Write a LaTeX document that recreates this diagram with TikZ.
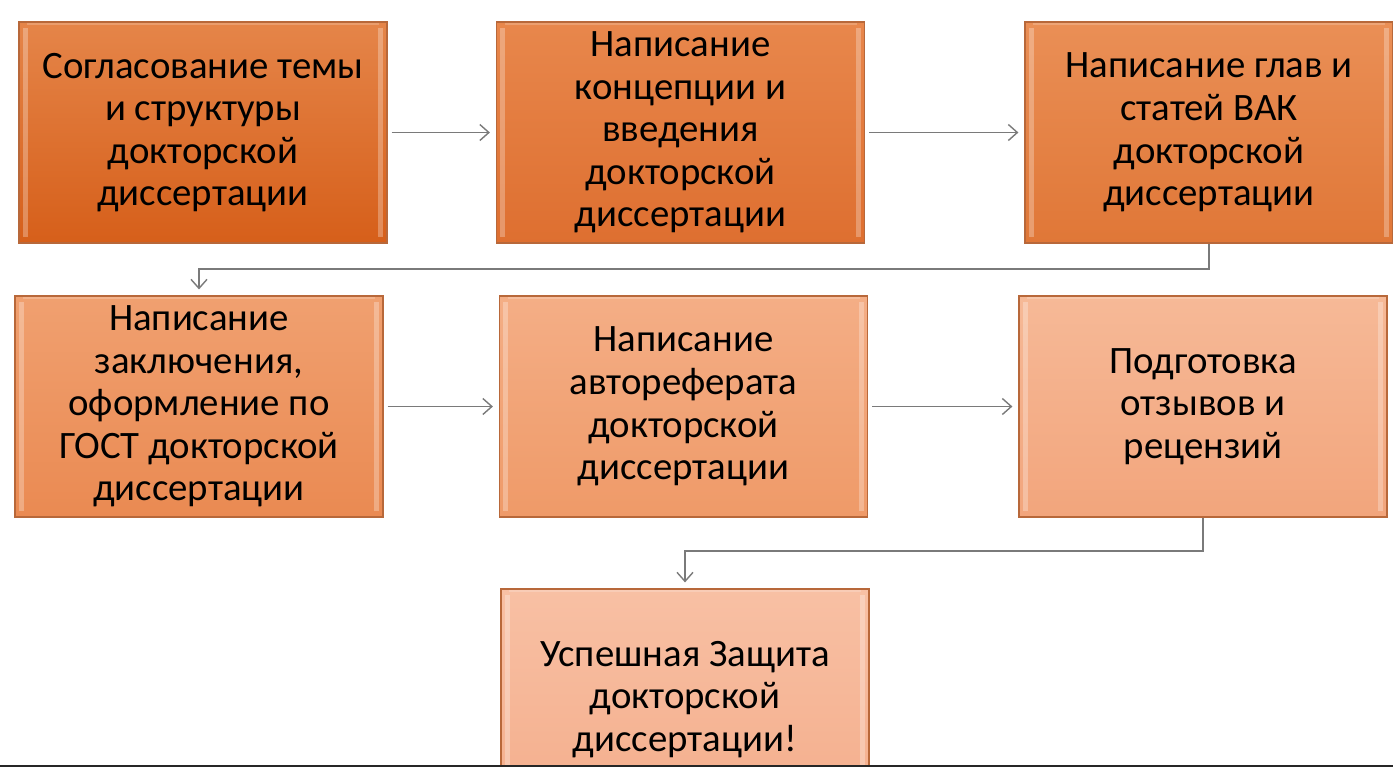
\documentclass[tikz,border=0pt]{standalone}
\usepackage{fontspec}
\setmainfont{Carlito}
\usetikzlibrary{arrows.meta}
\definecolor{brd}{HTML}{B8683A}
\definecolor{lnk}{HTML}{7A7A7A}
\definecolor{t1}{HTML}{E58549}\definecolor{u1}{HTML}{D65F1A}
\definecolor{t2}{HTML}{E8874C}\definecolor{u2}{HTML}{DE6F30}
\definecolor{t3}{HTML}{EA8F56}\definecolor{u3}{HTML}{E07737}
\definecolor{t4}{HTML}{F0A070}\definecolor{u4}{HTML}{EA8A52}
\definecolor{t5}{HTML}{F4AE86}\definecolor{u5}{HTML}{EF9A68}
\definecolor{t6}{HTML}{F6B997}\definecolor{u6}{HTML}{F2A57C}
\definecolor{t7}{HTML}{F8C0A4}\definecolor{u7}{HTML}{F4AE8C}
\tikzset{
  stepbox/.style 2 args={draw=brd, line width=0.6pt, top color=#1, bottom color=#2,
    minimum width=184pt, minimum height=110.5pt, inner sep=0pt, align=center,
    font=\fontsize{19.4}{21.3}\selectfont,
    path picture={
      \draw[white, opacity=0.28, line width=2.5pt]
        ([shift={(3.2pt,-3pt)}]path picture bounding box.north west) --
        ([shift={(3.2pt,3pt)}]path picture bounding box.south west);
      \draw[white, opacity=0.28, line width=2.5pt]
        ([shift={(-3.2pt,-3pt)}]path picture bounding box.north east) --
        ([shift={(-3.2pt,3pt)}]path picture bounding box.south east);
      \draw[white, opacity=0.2, line width=1pt]
        ([shift={(4pt,-1.2pt)}]path picture bounding box.north west) --
        ([shift={(-4pt,-1.2pt)}]path picture bounding box.north east);
    }},
  link/.style={draw=lnk, line width=0.7pt, -{Straight Barb[length=4.5pt,width=8pt]}},
}
\begin{document}
\begin{tikzpicture}[x=0.5pt,y=-0.5pt]
\useasboundingbox (0,0) rectangle (1393,767);
\fill[white] (0,0) rectangle (1393,767);
\begin{scope}
\clip (0,0) rectangle (1393,765);
\node[stepbox={t1}{u1}] (b1) at (203,132.5) {Согласование темы\\и структуры\\докторской\\диссертации};
\node[stepbox={t2}{u2}] (b2) at (680.5,132.5) {Написание\\концепции и\\введения\\докторской\\диссертации};
\node[stepbox={t3}{u3}] (b3) at (1209,132.5) {Написание глав и\\статей ВАК\\докторской\\диссертации};
\node[stepbox={t4}{u4}] (b4) at (199,406.5) {Написание\\заключения,\\оформление по\\ГОСТ докторской\\диссертации};
\node[stepbox={t5}{u5}] (b5) at (683.5,406.5) {Написание\\автореферата\\докторской\\диссертации};
\node[stepbox={t6}{u6}] (b6) at (1203,406.5) {Подготовка\\отзывов и\\рецензий};
\node[stepbox={t7}{u7}] (b7) at (685,699.5) {Успешная Защита\\докторской\\диссертации!};
\end{scope}
\coordinate (m1) at (0,269);
\coordinate (m2) at (0,551);
\draw[link, shorten <=2pt, shorten >=3pt] (b1.east) -- (b2.west);
\draw[link, shorten <=2pt, shorten >=3pt] (b2.east) -- (b3.west);
\draw[link, shorten >=3pt] (b3.south) |- (b4.north |- m1) -- (b4.north);
\draw[link, shorten <=2pt, shorten >=3pt] (b4.east) -- (b5.west);
\draw[link, shorten <=2pt, shorten >=3pt] (b5.east) -- (b6.west);
\draw[link, shorten >=3pt] (b6.south) |- (b7.north |- m2) -- (b7.north);
\fill[black!85] (0,765) rectangle (1393,767);
\end{tikzpicture}
\end{document}
